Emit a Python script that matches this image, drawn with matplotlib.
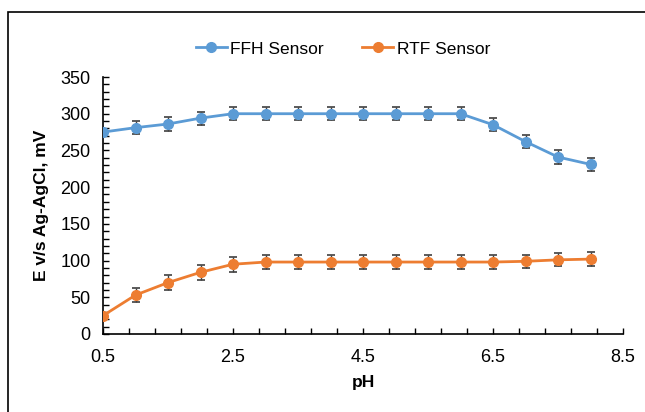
import matplotlib
matplotlib.use("Agg")
import matplotlib.pyplot as plt
from matplotlib.ticker import MultipleLocator, FixedLocator
from matplotlib.patches import Rectangle
from matplotlib.lines import Line2D

plt.rcParams['font.family'] = ['Liberation Sans', 'DejaVu Sans']

ph = [0.5, 1.0, 1.5, 2.0, 2.5, 3.0, 3.5, 4.0, 4.5, 5.0, 5.5, 6.0, 6.5, 7.0, 7.5, 8.0]
ffh = [275, 281, 286, 294, 300, 300, 300, 300, 300, 300, 300, 300, 285, 262, 241, 231]
ffh_err = [0, 9, 9, 9, 9, 9, 9, 9, 9, 9, 9, 9, 9, 9, 9, 9]
rtf = [25, 53, 70, 84, 95, 98, 98, 98, 98, 98, 98, 98, 98, 99, 101, 102]
rtf_err = [0, 10, 10, 10, 10, 9, 9, 9, 9, 9, 9, 9, 9, 9, 9, 9]
xticks = [0.5, 2.5, 4.5, 6.5, 8.5]

fig = plt.figure(figsize=(6.45, 4.12), dpi=100)
fig.patches.append(Rectangle((8/645, -0.1), 1.2, (412-12)/412 + 0.1, transform=fig.transFigure,
                             fill=False, edgecolor='black', linewidth=1.2))
ax = fig.add_axes([103/645, 78/412, 520/645, 257/412])

blue = '#5B9BD5'
orange = '#ED7D31'
ax.errorbar(ph, ffh, yerr=ffh_err, color=blue, marker='o', markersize=7, linewidth=2,
            ecolor='#404040', elinewidth=1, capsize=3, capthick=1.2, label='FFH Sensor', zorder=3)
ax.errorbar(ph, rtf, yerr=rtf_err, color=orange, marker='o', markersize=7, linewidth=2,
            ecolor='#404040', elinewidth=1, capsize=3, capthick=1.2, label='RTF Sensor', zorder=3)

ax.set_xlim(0.5, 8.5)
ax.set_ylim(0, 350)
ax.xaxis.set_major_locator(FixedLocator(xticks))
ax.xaxis.set_minor_locator(MultipleLocator(0.4, offset=0.5))
ax.yaxis.set_major_locator(MultipleLocator(50))
ax.yaxis.set_minor_locator(MultipleLocator(10))
ax.set_xticklabels([f'{v:g}' for v in xticks])
ax.tick_params(which='both', direction='in', length=4.5, width=1, labelsize=13, color='black')
ax.tick_params(axis='x', pad=11)
ax.tick_params(axis='y', pad=9)
for s in ['top', 'right']:
    ax.spines[s].set_visible(False)
for s in ['left', 'bottom']:
    ax.spines[s].set_linewidth(1.2)

ax.set_xlabel('pH', fontsize=12.5, fontweight='bold', labelpad=6)
ax.set_ylabel('E v/s Ag-AgCl, mV', fontsize=12.5, fontweight='bold', labelpad=8)

handles = [Line2D([], [], color=blue, marker='o', markersize=7, linewidth=2),
           Line2D([], [], color=orange, marker='o', markersize=7, linewidth=2)]
fig.legend(handles, ['FFH Sensor', 'RTF Sensor'], loc='center', bbox_to_anchor=(343/645, 1-49/412),
           ncol=2, frameon=False, fontsize=12.5, columnspacing=2.2, handlelength=1.8, handletextpad=0.2)

fig.savefig('out.png', dpi=100)
